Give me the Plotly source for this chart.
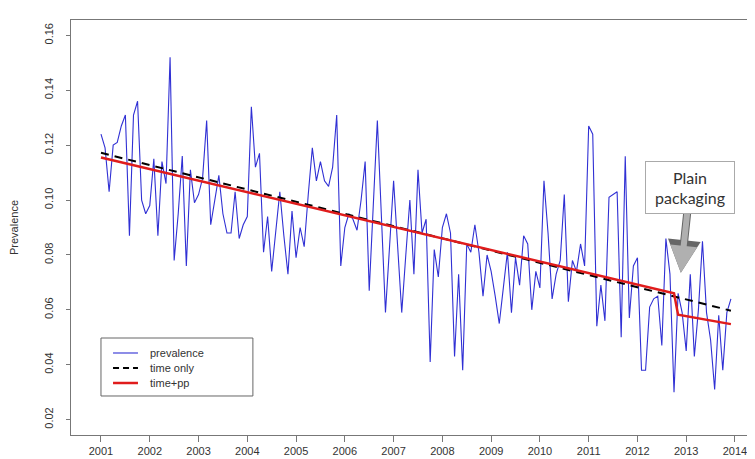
import plotly.graph_objects as go

# Monthly prevalence, Jan 2001 .. Dec 2013
start_year = 2001
prevalence = [
    0.124, 0.119, 0.103, 0.120, 0.121, 0.127, 0.131, 0.087, 0.131, 0.136, 0.100, 0.095,
    0.098, 0.115, 0.087, 0.114, 0.106, 0.152, 0.078, 0.095, 0.116, 0.076, 0.111, 0.099,
    0.102, 0.108, 0.129, 0.091, 0.100, 0.109, 0.095, 0.088, 0.088, 0.103, 0.086, 0.091,
    0.094, 0.134, 0.112, 0.117, 0.081, 0.094, 0.074, 0.088, 0.103, 0.087, 0.073, 0.096,
    0.079, 0.090, 0.083, 0.102, 0.119, 0.107, 0.114, 0.107, 0.105, 0.112, 0.131, 0.076,
    0.090, 0.095, 0.093, 0.089, 0.100, 0.114, 0.067, 0.098, 0.129, 0.094, 0.059, 0.083,
    0.107, 0.083, 0.059, 0.080, 0.100, 0.073, 0.111, 0.088, 0.093, 0.041, 0.082, 0.072,
    0.090, 0.095, 0.088, 0.043, 0.073, 0.038, 0.084, 0.081, 0.091, 0.081, 0.065, 0.080,
    0.074, 0.065, 0.055, 0.068, 0.081, 0.059, 0.079, 0.069, 0.087, 0.084, 0.060, 0.074,
    0.068, 0.107, 0.088, 0.064, 0.073, 0.078, 0.102, 0.063, 0.078, 0.074, 0.084, 0.076,
    0.127, 0.124, 0.054, 0.069, 0.056, 0.101, 0.102, 0.103, 0.050, 0.116, 0.057, 0.076,
    0.079, 0.038, 0.038, 0.061, 0.064, 0.065, 0.047, 0.086, 0.073, 0.030, 0.066, 0.059,
    0.045, 0.073, 0.043, 0.060, 0.085, 0.059, 0.049, 0.031, 0.058, 0.038, 0.059, 0.064,
]
months = [start_year + i / 12 for i in range(len(prevalence))]

# Fitted trend lines (end points / break points)
time_only_x = [2001.0, 2013.917]
time_only_y = [0.1172, 0.0597]
time_pp_x = [2001.0, 2012.75, 2012.833, 2013.917]
time_pp_y = [0.1155, 0.0660, 0.0582, 0.0548]

year_ticks = list(range(2001, 2015))
y_ticks = [0.02, 0.04, 0.06, 0.08, 0.10, 0.12, 0.14, 0.16]
y_tick_labels = ["0.02", "0.04", "0.06", "0.08", "0.10", "0.12", "0.14", "0.16"]

series_names = ["prevalence", "time only", "time+pp"]
series_colors = ["#3030d4", "black", "#e01c1c"]
series_widths = [1.1, 2, 2.5]
series_dash = ["solid", "8px,6px", "solid"]

fig = go.Figure()
fig.add_trace(go.Scatter(x=months, y=prevalence, mode="lines", name=series_names[0],
                         line=dict(color=series_colors[0], width=series_widths[0])))
fig.add_trace(go.Scatter(x=time_only_x, y=time_only_y, mode="lines", name=series_names[1],
                         line=dict(color=series_colors[1], width=series_widths[1],
                                   dash=series_dash[1])))
fig.add_trace(go.Scatter(x=time_pp_x, y=time_pp_y, mode="lines", name=series_names[2],
                         line=dict(color=series_colors[2], width=series_widths[2])))

axis_font = dict(family="Liberation Sans, Arial, sans-serif", size=11, color="#333")

# Legend drawn by hand (box, line samples, labels) in paper coordinates
shapes = [dict(type="rect", xref="paper", yref="paper",
               x0=0.0435, x1=0.264, y0=0.094, y1=0.2337,
               line=dict(color="#666", width=1), fillcolor="rgba(0,0,0,0)")]
annotations = []
legend_rows = [0.1976, 0.1614, 0.1253]
for name, col, w, d, yy in zip(series_names, series_colors, series_widths,
                               series_dash, legend_rows):
    shapes.append(dict(type="line", xref="paper", yref="paper",
                       x0=0.061, x1=0.0972, y0=yy, y1=yy,
                       line=dict(color=col, width=w,
                                 dash="6px,4px" if d != "solid" else "solid")))
    annotations.append(dict(x=0.1118, y=yy, xref="paper", yref="paper",
                            text=name, showarrow=False, xanchor="left", yanchor="middle",
                            font=dict(family="Liberation Sans, Arial, sans-serif",
                                      size=11, color="#333")))

# "Plain packaging" call-out: dark outline arrow underneath, grey arrow + box on top
callout = dict(x=2012.89, y=0.0735, xref="x", yref="y",
               text="Plain<br>packaging", showarrow=True,
               ax=9, ay=-85, axref="pixel", ayref="pixel",
               width=80, height=43, borderpad=4)
annotations.append(dict(callout, arrowhead=2, arrowsize=0.82, arrowwidth=8,
                        arrowcolor="#666",
                        font=dict(family="Lato, Open Sans, sans-serif", size=16,
                                  color="rgba(0,0,0,0)"),
                        bgcolor="rgba(0,0,0,0)", borderwidth=0))
annotations.append(dict(callout, arrowhead=2, arrowsize=0.9, arrowwidth=6,
                        arrowcolor="#b0b0b0",
                        font=dict(family="Lato, Open Sans, sans-serif", size=16, color="#333"),
                        bgcolor="white", bordercolor="#aaa", borderwidth=1))

fig.update_layout(
    width=755, height=459,
    margin=dict(l=63, r=3, t=12, b=32),
    paper_bgcolor="white", plot_bgcolor="white",
    font=axis_font,
    showlegend=False,
    xaxis=dict(range=[2000.385, 2014.513], tickmode="array", tickvals=year_ticks,
               ticktext=[str(y) for y in year_ticks],
               showgrid=False, zeroline=False, showline=True, mirror=True,
               linecolor="#777", linewidth=1, ticks="outside", ticklen=6,
               tickcolor="#777", tickfont=axis_font, automargin=False),
    yaxis=dict(range=[0.0144, 0.1656], tickmode="array", tickvals=y_ticks,
               ticktext=y_tick_labels, tickangle=-90, ticklabelstandoff=9,
               showgrid=False, zeroline=False, showline=True, mirror=True,
               linecolor="#777", linewidth=1, ticks="outside", ticklen=4,
               tickcolor="#777", tickfont=axis_font, automargin=False,
               title=dict(text="Prevalence", font=axis_font, standoff=21)),
    shapes=shapes,
    annotations=annotations,
)

fig.write_html("out.html")
